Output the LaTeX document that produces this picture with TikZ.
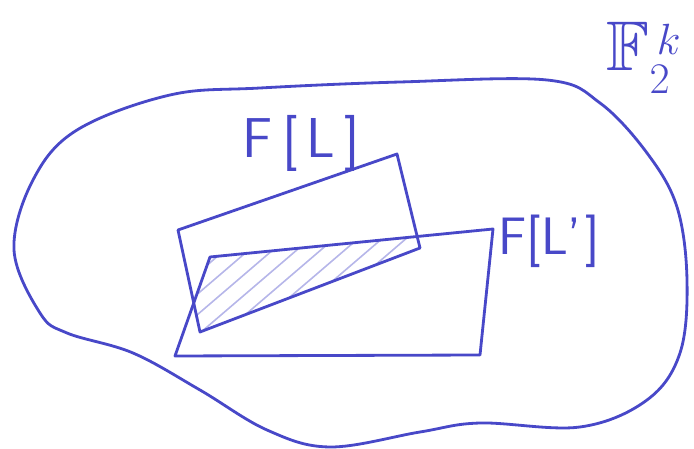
\documentclass[tikz,border=0pt]{standalone}
\usepackage{amsmath,amssymb}
\usetikzlibrary{calc}
\definecolor{ink}{RGB}{72,72,200}
\tikzset{
  pen/.style={draw=ink, line width=1.6pt, line join=round, line cap=round},
  hatchline/.style={draw=ink!40, line width=0.9pt, line cap=round},
  sketchlabel/.style={text=ink, font=\sffamily\fontsize{32}{36}\selectfont, inner sep=0pt},
}
\begin{document}
\begin{tikzpicture}[x=0.02cm, y=-0.02cm]
  \useasboundingbox (0,0) rectangle (694,449);

  % the whole space
  \draw[pen] plot[smooth cycle, tension=0.6] coordinates {
    (170,95) (77,130) (33,180) (14,250) (40,313) (67,333) (133,353)
    (200,390) (267,430) (330,447) (420,432) (480,423) (580,427)
    (647,400) (680,353) (687,280) (677,207) (647,153) (600,103)
    (547,80) (400,82) (260,88)};

  % corners of F[L]
  \coordinate (A1) at (178,230);
  \coordinate (A2) at (397,154);
  \coordinate (A3) at (420,248);
  \coordinate (A4) at (200,332);
  % corners of F[L']
  \coordinate (B1) at (210,257);
  \coordinate (B2) at (493,229);
  \coordinate (B3) at (480,355);
  \coordinate (B4) at (175,356);

  % hatched overlap
  \begin{scope}
    \clip (A1) -- (A2) -- (A3) -- (A4) -- cycle;
    \clip (B1) -- (B2) -- (B3) -- (B4) -- cycle;
    \foreach \x in {90,114,...,420}
      \draw[hatchline] (\x,345) -- ++(140,-120);
  \end{scope}

  \draw[pen] (A1) -- (A2) -- (A3) -- (A4) -- cycle;
  \draw[pen] (B1) -- (B2) -- (B3) -- (B4) -- cycle;

  % labels
  \node[sketchlabel] (labelL)  at (301,143) {F\hspace{6pt}[\hspace{5pt}L\hspace{5pt}]};
  \node[sketchlabel, font=\sffamily\fontsize{30}{34}\selectfont] (labelLp) at (549,241) {F[L'\hspace{2pt}]};
  \node[sketchlabel, font=\fontsize{40}{44}\selectfont] (labelF) at (644,58) {$\mathbb{F}_2^{\,k}$};
\end{tikzpicture}
\end{document}
